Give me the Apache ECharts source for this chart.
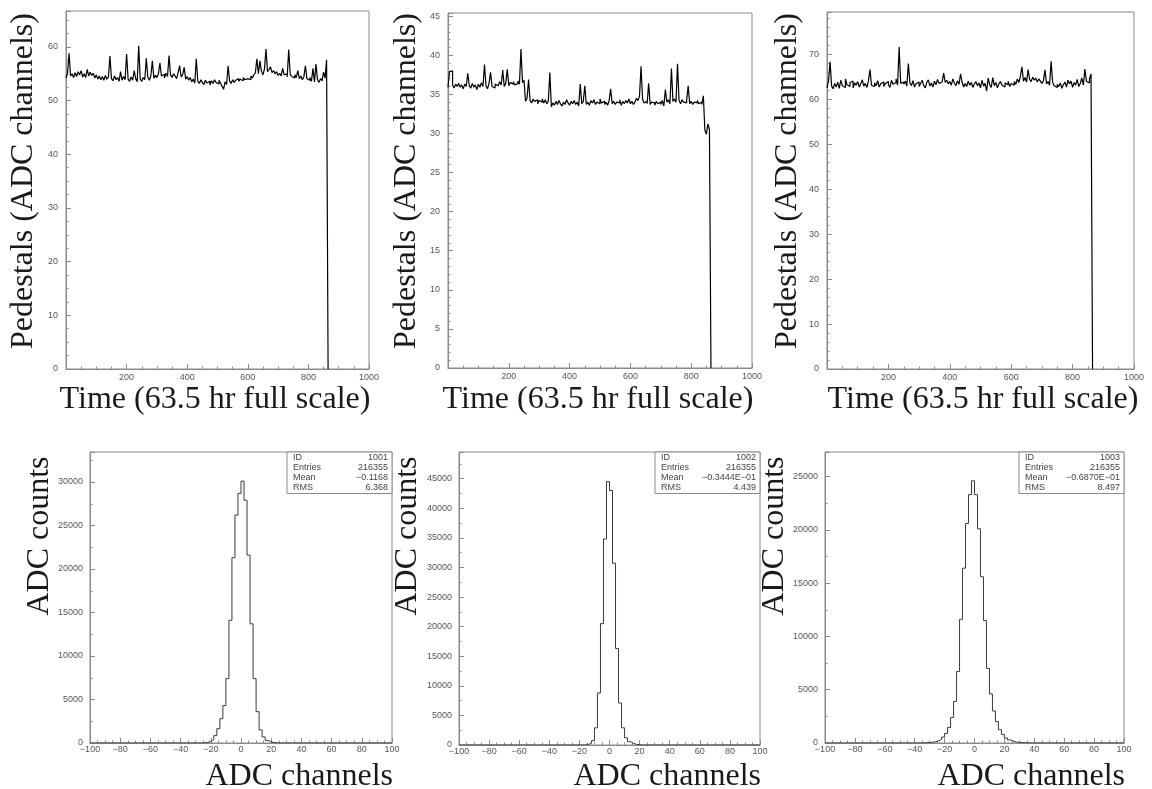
<!DOCTYPE html>
<html><head><meta charset="utf-8">
<script src="https://cdn.jsdelivr.net/npm/echarts@6/dist/echarts.min.js"></script>
<style>html,body{margin:0;padding:0;background:#fff}#c{width:1152px;height:789px}</style>
</head><body><div id="c"></div>
<script>
// ---------------- DATA ----------------
// Top row: pedestal vs time, one value per 5-unit time bin (bins 0..172 => t = 0..865)
const timeBinWidth = 5;
const ped1 = [
54.2,55.1,58.8,54.6,55.0,54.3,55.2,54.5,55.4,54.8,
55.6,54.4,55.0,54.3,55.8,54.6,55.3,54.7,55.1,54.2,
54.8,54.0,54.6,53.9,54.5,53.8,54.7,54.0,54.4,58.3,
54.1,53.7,54.6,53.9,54.3,53.6,55.4,53.8,54.5,53.9,
58.7,54.0,53.6,54.4,53.8,55.6,54.1,53.5,60.2,54.0,
53.6,54.3,53.9,57.9,54.4,53.8,54.6,57.4,54.2,54.7,
54.3,55.0,57.0,54.6,54.9,54.2,55.1,54.5,58.4,54.8,
54.3,55.0,54.6,54.1,55.2,56.5,54.4,54.8,56.2,54.0,
54.5,53.8,54.3,53.5,54.0,53.3,57.8,53.6,53.2,53.9,
53.4,53.0,53.8,53.3,53.6,52.9,53.7,53.2,53.9,53.4,
53.1,53.8,53.3,52.7,52.1,53.5,53.0,56.5,53.6,53.2,
53.9,53.4,53.8,54.1,53.6,54.0,53.7,54.3,53.9,54.1,
54.4,53.9,54.6,54.2,54.8,55.2,57.8,55.0,57.4,55.5,
54.8,55.9,59.6,55.4,55.8,56.3,55.2,55.6,55.0,55.4,
54.7,55.1,54.6,56.0,54.8,55.0,54.4,59.5,54.9,54.5,
54.2,54.8,54.3,55.6,54.1,54.6,53.9,54.4,56.5,54.1,
53.8,54.3,53.6,56.0,53.5,56.8,53.9,53.4,54.1,53.7,
55.3,54.2,57.6];
const ped2 = [
35.9,37.9,38.0,36.2,35.8,36.3,36.0,36.4,35.9,36.2,
35.7,36.3,36.0,37.7,36.1,35.8,36.4,35.9,36.2,35.6,
36.3,35.9,36.5,36.0,38.8,36.1,35.7,36.4,37.8,36.0,
35.8,36.3,36.1,35.9,36.6,36.2,38.1,36.0,36.4,38.2,
36.1,36.5,36.3,36.6,36.2,36.4,36.7,36.3,40.8,36.5,
36.8,34.1,34.5,36.9,34.2,33.9,34.4,34.1,34.3,33.8,
34.2,34.0,34.4,33.9,34.3,33.8,34.1,37.8,33.4,33.9,
33.6,34.1,33.7,34.2,33.8,33.5,34.0,33.7,34.3,33.9,
33.6,34.1,33.8,34.2,33.7,34.0,33.5,36.3,33.8,34.1,
36.1,33.7,34.0,33.6,34.2,33.9,34.3,33.7,34.0,33.8,
34.4,33.9,34.1,33.7,34.0,33.6,34.2,35.7,33.8,34.1,
33.7,34.0,33.9,34.3,33.6,34.1,33.8,34.2,33.9,34.4,
33.8,34.1,33.7,34.0,34.5,34.2,34.8,38.6,34.4,33.9,
34.1,33.8,36.4,33.7,34.0,33.9,33.6,34.1,33.8,34.0,
33.7,34.2,33.5,35.6,34.0,34.3,33.8,38.3,34.1,34.4,
34.0,38.9,34.2,33.8,34.3,34.0,33.9,34.2,36.1,33.8,
34.1,33.7,34.0,33.9,34.2,33.8,34.0,33.7,34.8,30.4,
29.9,31.2,30.5];
const ped3 = [
62.6,64.2,68.4,63.0,62.4,63.6,62.8,63.9,62.5,64.3,
63.1,62.7,64.6,63.3,62.9,63.8,64.1,62.6,63.7,63.2,
64.0,62.8,63.5,64.4,63.0,63.6,62.7,64.1,66.7,63.2,
62.9,63.7,63.1,64.2,62.8,63.5,63.9,62.9,63.6,64.0,
63.3,62.7,64.3,63.4,63.8,64.6,63.2,71.7,63.6,63.9,
63.4,64.1,63.0,68.0,63.7,63.1,64.2,62.8,63.5,63.9,
62.9,63.6,64.3,63.1,62.6,63.8,64.4,63.0,63.7,62.8,
64.1,63.3,64.5,63.6,63.9,64.2,65.9,63.8,64.3,63.5,
64.0,63.2,64.6,63.7,63.1,64.2,63.4,65.7,63.9,62.8,
63.6,62.9,64.1,63.2,63.8,62.7,63.5,64.0,63.1,63.7,
62.6,64.3,63.0,63.6,61.9,64.8,63.3,62.7,64.9,63.1,
63.8,62.6,63.5,64.0,63.2,62.8,63.7,63.3,64.1,62.9,
63.6,63.2,64.0,63.4,64.6,63.8,65.2,67.3,64.1,64.9,
63.9,66.7,64.5,64.0,65.0,64.3,64.8,63.9,64.6,64.1,
63.6,64.2,66.6,63.5,64.0,63.2,68.5,63.8,63.1,62.7,
63.4,62.9,63.7,62.5,63.3,63.9,62.8,64.3,63.5,64.1,
62.7,63.8,63.2,64.5,62.9,63.6,64.8,63.2,66.8,64.1,
63.7,64.6,65.7];
const timeRange = [0, 1000];
const timeTickStep = 200;
const pedYMax = [66.7, 45.4, 79.5];
const pedYStep = [10, 5, 10];
const pedYMinorSplit = [4, 5, 5];

// Bottom row: ADC histograms, bin width 2 over [-100,100]; nonzero bins listed from a start edge
const adcRange = [-100, 100];
const adcBinWidth = 2;
const adcTickStep = 20;
const hist1Start = -26;
const hist1 = [20,60,180,400,850,1650,2800,4300,7400,14100,21300,26200,28700,30100,27900,21600,13700,7400,3600,1500,700,300,120,50,20];
const hist2Start = -16;
const hist2 = [100,280,730,2900,8800,20500,34800,44500,43000,30700,16300,7100,2900,1200,560,280,110,40];
const hist3Start = -36;
const hist3 = [12,25,40,70,120,200,330,560,900,1450,2400,3900,6700,11600,16400,20600,23300,24600,
               23300,20100,15600,11500,7000,4600,3000,2000,1250,800,480,290,170,100,60,35,20,10];
const histYMax = [33450, 49500, 27300];
const histYStep = 5000;

// Stats boxes
const statLabels = ['ID', 'Entries', 'Mean', 'RMS'];
const statValues = [
  ['1001', '216355', '\u22120.1168', '6.368'],
  ['1002', '216355', '\u22120.3444E\u221201', '4.439'],
  ['1003', '216355', '\u22120.6870E\u221201', '8.497']
];

// Titles
const topXTitle = 'Time (63.5 hr full scale)';
const topYTitle = 'Pedestals (ADC channels)';
const botXTitle = 'ADC channels';
const botYTitle = 'ADC counts';

// ---------------- LAYOUT ----------------
const grids = [
  {left: 66,  top: 11,  width: 303, height: 358},
  {left: 448, top: 13,  width: 304, height: 355},
  {left: 827, top: 12,  width: 307, height: 357},
  {left: 90,  top: 452, width: 302, height: 291},
  {left: 459, top: 452, width: 301, height: 293},
  {left: 825, top: 452, width: 299, height: 291}
];
const frameColor = '#8a8a8a';
const labelFont = {fontFamily: 'Liberation Sans, Arial, sans-serif', fontSize: 9, color: '#555'};
const titleFont = '32px "Liberation Serif", "Times New Roman", serif';

function multipleFormatter(step, fmt) {
  return function (v) {
    const r = v / step;
    if (Math.abs(r - Math.round(r)) > 1e-6) return '';
    return fmt ? fmt(v) : String(v);
  };
}
const minusFmt = v => (v < 0 ? '\u2212' + Math.abs(v) : String(v));

function baseAxis(extra) {
  return Object.assign({
    type: 'value',
    axisLine: {show: true, onZero: false, lineStyle: {color: frameColor, width: 1}},
    axisTick: {show: true, inside: true, length: 5, lineStyle: {color: frameColor}},
    splitLine: {show: false}
  }, extra);
}

const xAxes = [], yAxes = [], series = [];
for (let i = 0; i < 3; i++) {
  xAxes.push(baseAxis({
    gridIndex: i, min: timeRange[0], max: timeRange[1], interval: timeTickStep,
    minorTick: {show: true, splitNumber: 4, length: 2.5, lineStyle: {color: frameColor}},
    axisLabel: Object.assign({margin: 4, showMinLabel: false,
      formatter: multipleFormatter(timeTickStep)}, labelFont)
  }));
  yAxes.push(baseAxis({
    gridIndex: i, min: 0, max: pedYMax[i], interval: pedYStep[i],
    minorTick: {show: true, splitNumber: pedYMinorSplit[i], length: 2.5, lineStyle: {color: frameColor}},
    axisLabel: Object.assign({margin: 8, formatter: multipleFormatter(pedYStep[i])}, labelFont)
  }));
}
for (let i = 0; i < 3; i++) {
  xAxes.push(baseAxis({
    gridIndex: 3 + i, min: adcRange[0], max: adcRange[1], interval: adcTickStep,
    minorTick: {show: true, splitNumber: 4, length: 2.5, lineStyle: {color: frameColor}},
    axisLabel: Object.assign({margin: 2, formatter: minusFmt}, labelFont)
  }));
  yAxes.push(baseAxis({
    gridIndex: 3 + i, min: 0, max: histYMax[i], interval: histYStep,
    minorTick: {show: true, splitNumber: 2, length: 2.5, lineStyle: {color: frameColor}},
    axisLabel: Object.assign({margin: 7, formatter: multipleFormatter(histYStep)}, labelFont)
  }));
}

// Pedestal histograms: points at bin left edges, final edge drops to 0
[ped1, ped2, ped3].forEach((vals, i) => {
  const data = vals.map((v, k) => [k * timeBinWidth, v]);
  data.push([vals.length * timeBinWidth, 0]);
  series.push({
    type: 'line', xAxisIndex: i, yAxisIndex: i, step: 'end', symbol: 'none', silent: true,
    lineStyle: {color: '#000', width: 1.2}, data: data
  });
});
// ADC histograms over the full range
[[hist1Start, hist1], [hist2Start, hist2], [hist3Start, hist3]].forEach((h, i) => {
  const data = [];
  for (let e = adcRange[0]; e < adcRange[1]; e += adcBinWidth) {
    const k = (e - h[0]) / adcBinWidth;
    data.push([e, (k >= 0 && k < h[1].length) ? h[1][k] : 0]);
  }
  data.push([adcRange[1], 0]);
  series.push({
    type: 'line', xAxisIndex: 3 + i, yAxisIndex: 3 + i, step: 'end', symbol: 'none', silent: true,
    lineStyle: {color: '#3a3a3a', width: 1}, data: data
  });
});

// ---------------- GRAPHIC TEXT (titles, stat boxes) ----------------
const graphic = [];
function txt(x, y, text, font, align, rot, fill) {
  graphic.push({
    type: 'text', x: x, y: y, rotation: rot || 0, z: 100, silent: true,
    style: {text: text, font: font, fill: fill || '#1a1a1a',
      align: align, textAlign: align, verticalAlign: 'middle', textVerticalAlign: 'middle'}
  });
}
const topYTitleX = [24, 407, 788];
const topXTitleX = [215, 598, 983];
for (let i = 0; i < 3; i++) {
  txt(topYTitleX[i], 181, topYTitle, titleFont, 'center', Math.PI / 2);
  txt(topXTitleX[i], 400, topXTitle, titleFont, 'center', 0);
}
const botYTitleX = [40, 408, 775];
for (let i = 0; i < 3; i++) {
  const g = grids[3 + i];
  txt(botYTitleX[i], 536, botYTitle, titleFont, 'center', Math.PI / 2);
  txt(g.left + g.width + 1, 777, botXTitle, titleFont, 'right', 0);
  // stats box at the top-right corner of the frame
  const bw = 105, bh = 41.5;
  const bx = g.left + g.width - bw, by = g.top;
  graphic.push({type: 'rect', z: 90, silent: true,
    shape: {x: bx, y: by, width: bw, height: bh},
    style: {fill: '#fff', stroke: frameColor, lineWidth: 1}});
  const statFont = '9px "Liberation Sans", Arial, sans-serif';
  const rowOff = [5.2, 15.5, 25.7, 36];
  statLabels.forEach((lab, k) => {
    txt(bx + 6, by + rowOff[k], lab, statFont, 'left', 0, '#444');
    txt(bx + bw - 4, by + rowOff[k], statValues[i][k], statFont, 'right', 0, '#444');
  });
}

const chart = echarts.init(document.getElementById('c'), null, {renderer: 'canvas'});
chart.setOption({
  animation: false,
  backgroundColor: '#fff',
  grid: grids.map(g => Object.assign({show: true, borderColor: frameColor, borderWidth: 1,
    backgroundColor: 'transparent', containLabel: false}, g)),
  xAxis: xAxes,
  yAxis: yAxes,
  series: series,
  graphic: graphic
});
</script></body></html>
